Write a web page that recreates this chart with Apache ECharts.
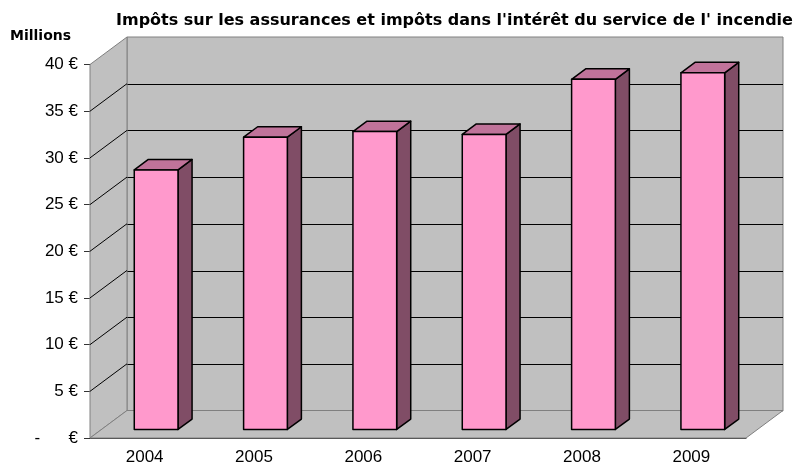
<!DOCTYPE html>
<html>
<head>
<meta charset="UTF-8">
<title>Impôts sur les assurances</title>
<script src="https://cdn.jsdelivr.net/npm/echarts@6/dist/echarts.min.js"></script>
<style>
html, body { margin: 0; padding: 0; background: #fff; }
#chart { width: 803px; height: 466px; }
</style>
</head>
<body>
<div id="chart"></div>
<script>
// données (millions d'euros)
var years = ['2004', '2005', '2006', '2007', '2008', '2009'];
var values = [27.8, 31.3, 31.9, 31.6, 37.5, 38.2];
var yTicks = [0, 5, 10, 15, 20, 25, 30, 35, 40];

var font = 'Arial, "Liberation Sans", sans-serif';
var titleFont = '"DejaVu Sans", Arial, sans-serif';
// profondeur de la vue 3D (décalage du mur du fond)
var DX = 37, DY = -27.5;
var BAR_FRONT = 0.31, BAR_BACK = 0.69;

function renderWalls(params, api) {
	var cs = params.coordSys;
	var x0 = cs.x, x1 = cs.x + cs.width;
	var yT = cs.y, yB = cs.y + cs.height;
	return {
		type: 'group',
		children: [
			{ type: 'polygon', shape: { points: [[x0, yT], [x0 + DX, yT + DY], [x0 + DX, yB + DY], [x0, yB]] },
			  style: { fill: '#C0C0C0', stroke: '#808080', lineWidth: 1 } },
			{ type: 'polygon', shape: { points: [[x0, yB], [x0 + DX, yB + DY], [x1 + DX, yB + DY], [x1, yB]] },
			  style: { fill: '#C0C0C0', stroke: '#808080', lineWidth: 1 } }
		]
	};
}

function renderWallLines(params, api) {
	var v = api.value(1);
	if (v <= 0 || v >= 40) return null;
	var x0 = params.coordSys.x;
	var y = api.coord([0, v])[1];
	return {
		type: 'line',
		shape: { x1: x0, y1: y, x2: x0 + DX, y2: y + DY },
		style: { stroke: '#000', lineWidth: 1 }
	};
}

function renderBar(params, api) {
	var i = api.value(0), v = api.value(1);
	var base = api.coord([i, 0]), top = api.coord([i, v]);
	var w = api.size([1, 0])[0] * 0.4;
	var fx = BAR_FRONT * DX, fy = BAR_FRONT * DY;
	var d = BAR_BACK - BAR_FRONT, ddx = d * DX, ddy = d * DY;
	var xl = base[0] - w / 2 + fx, xr = xl + w;
	var yt = top[1] + fy, yb = base[1] + fy;
	var edge = { stroke: '#000', lineWidth: 1.5, lineJoin: 'round' };
	return {
		type: 'group',
		children: [
			{ type: 'polygon', shape: { points: [[xr, yt], [xr + ddx, yt + ddy], [xr + ddx, yb + ddy], [xr, yb]] },
			  style: Object.assign({ fill: '#804D66' }, edge) },
			{ type: 'polygon', shape: { points: [[xl, yt], [xl + ddx, yt + ddy], [xr + ddx, yt + ddy], [xr, yt]] },
			  style: Object.assign({ fill: '#C0739A' }, edge) },
			{ type: 'rect', shape: { x: xl, y: yt, width: w, height: yb - yt },
			  style: Object.assign({ fill: '#FF99CC' }, edge) }
		]
	};
}

var option = {
	animation: false,
	backgroundColor: '#fff',
	title: [
		{ text: "Impôts sur les assurances et impôts dans l'intérêt du service de l' incendie",
		  left: 116, top: 13, padding: 0,
		  textStyle: { fontFamily: titleFont, fontSize: 16, fontWeight: 'bold', color: '#000' } },
		{ text: 'Millions', left: 10, top: 29, padding: 0,
		  textStyle: { fontFamily: titleFont, fontSize: 14, fontWeight: 'bold', color: '#000' } }
	],
	grid: [
		// mur du fond
		{ left: 127, right: 20, top: 37, bottom: 55, show: true,
		  backgroundColor: '#C0C0C0', borderColor: '#808080', borderWidth: 1 },
		// plan avant (axes)
		{ left: 90, right: 57, top: 64.5, bottom: 27.5 }
	],
	xAxis: [
		{ gridIndex: 0, type: 'category', data: years, show: false },
		{ gridIndex: 1, type: 'category', data: years,
		  axisLine: { lineStyle: { color: '#333', width: 1 } },
		  axisTick: { length: 6, lineStyle: { color: '#333' } },
		  axisLabel: { fontFamily: font, fontSize: 17, color: '#000', margin: 11 } }
	],
	yAxis: [
		{ gridIndex: 0, type: 'value', min: 0, max: 40, interval: 5,
		  axisLabel: { show: false }, axisLine: { show: false }, axisTick: { show: false },
		  splitLine: { show: true, showMinLine: false, showMaxLine: false, lineStyle: { color: '#000', width: 1 } } },
		{ gridIndex: 1, type: 'value', min: 0, max: 40, interval: 5,
		  axisLine: { show: true, lineStyle: { color: '#333', width: 1 } },
		  axisTick: { show: true, length: 6, lineStyle: { color: '#333' } },
		  splitLine: { show: false },
		  axisLabel: { fontFamily: font, fontSize: 17, color: '#000', margin: 12,
			formatter: function (v) { return v === 0 ? '-      €' : v + ' €'; } } }
	],
	series: [
		{ type: 'custom', name: 'murs', xAxisIndex: 1, yAxisIndex: 1, z: 1, silent: true,
		  renderItem: renderWalls, data: [[0, 0]] },
		{ type: 'custom', name: 'lignes', xAxisIndex: 1, yAxisIndex: 1, z: 2, silent: true,
		  renderItem: renderWallLines, data: yTicks.map(function (v) { return [0, v]; }) },
		{ type: 'custom', name: 'Impôts', xAxisIndex: 1, yAxisIndex: 1, z: 3,
		  renderItem: renderBar, data: values.map(function (v, i) { return [i, v]; }) }
	]
};

var myChart = echarts.init(document.getElementById('chart'));
myChart.setOption(option);
</script>
</body>
</html>
